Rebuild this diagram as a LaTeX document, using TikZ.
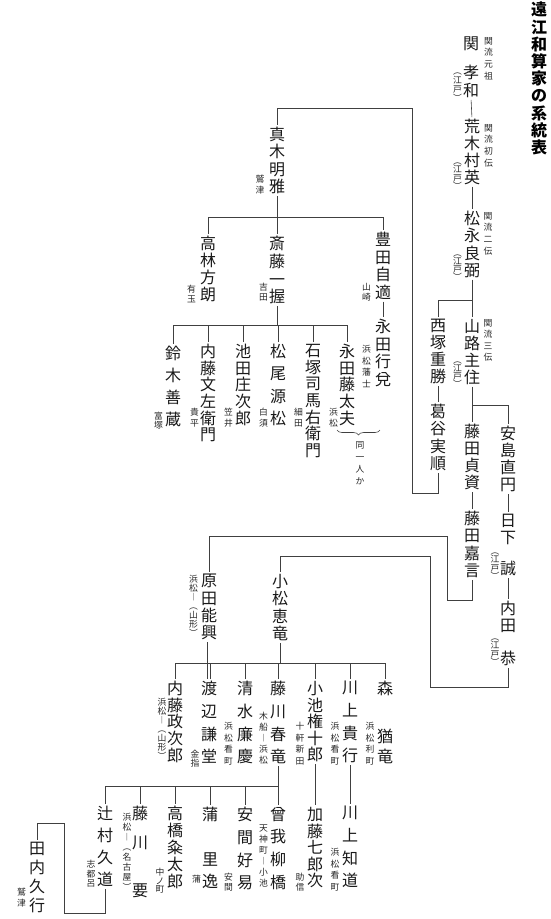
\documentclass[tikz,border=0pt]{standalone}
\usepackage{fontspec}
\newfontfamily\jp{Noto Sans CJK JP}
\usetikzlibrary{decorations.pathreplacing}
\begin{document}
\lineskiplimit=-6pt\relax
\lineskip=0pt\relax
\begin{tikzpicture}[x=1pt,y=-1pt,
  nm/.style={font=\jp\fontsize{16}{#1}\selectfont, align=center, inner sep=0pt, anchor=north, text=black!90},
  nm/.default=17,
  ann/.style={font=\jp\fontsize{8.8}{#1}\selectfont, align=center, inner sep=0pt, anchor=north, text=black!85},
  ann/.default=11,
  pa/.style={ann=#1, anchor=center},
  ttl/.style={font=\jp\bfseries\fontsize{16}{17.2}\selectfont, align=center, inner sep=0pt, anchor=north},
  ln/.style={line width=0.6pt, draw=black!75, shorten <=2pt},
  ln2/.style={line width=0.6pt, draw=black!75, shorten <=2pt, shorten >=2pt}]
\useasboundingbox (0,0) rectangle (550,919);

% title
\node[ttl] (title) at (539,2) {遠\\江\\和\\算\\家\\の\\系\\統\\表};

% Seki line
\node[nm=17.5] (seki) at (471,37) {関\\[11.5pt]孝\\和};
\node[ann=11.7] (sekiA) at (488.5,37) {関\\流\\元\\祖};
\node[pa=9] (sekiB) at (457.5,87.5) {︵\\江\\戸\\︶};

\node[nm=16.8] (araki) at (472,119) {荒\\木\\村\\英};
\node[ann=11.7] (arakiA) at (488.5,124) {関\\流\\初\\伝};
\node[pa=8.5] (arakiB) at (457.5,176) {︵\\江\\戸\\︶};

\node[nm=17.2] (matsunaga) at (472,211) {松\\永\\良\\弼};
\node[ann=11.7] (matsunagaA) at (488,212) {関\\流\\二\\伝};
\node[pa=8] (matsunagaB) at (457.5,268) {︵\\江\\戸\\︶};

\node[nm=17] (nishizuka) at (438,319) {西\\塚\\重\\勝};
\node[nm=17.3] (katsuya) at (438,404) {葛\\谷\\実\\順};

\node[nm=17] (yamaji) at (472,319) {山\\路\\主\\住};
\node[ann=11.5] (yamajiA) at (488,319) {関\\流\\三\\伝};
\node[pa=8] (yamajiB) at (457.5,375) {︵\\江\\戸\\︶};

\node[nm=17] (fujita1) at (472,424) {藤\\田\\貞\\資};
\node[nm=17.3] (fujita2) at (472,511) {藤\\田\\嘉\\言};

\node[nm=17] (ajima) at (508,426) {安\\島\\直\\円};
\node[nm=16.5] (kusaka) at (508,514) {日\\下\\[15pt]誠};
\node[pa=8.5] (kusakaB) at (495,566) {︵\\江\\戸\\︶};
\node[nm=16.5] (uchida) at (508,601) {内\\田\\[17pt]恭};
\node[pa=8.5] (uchidaB) at (495,652) {︵\\江\\戸\\︶};

% Maki group
\node[nm=17.3] (maki) at (277,127) {真\\木\\明\\雅};
\node[ann=11] (makiA) at (260,175) {鷲\\津};
\node[nm=17] (takabayashi) at (208,236) {高\\林\\方\\朗};
\node[ann=10] (takabayashiA) at (191.5,285) {有\\玉};
\node[nm=17.7] (saito) at (277,236) {斎\\藤\\一\\握};
\node[ann=10] (saitoA) at (263.5,283) {吉\\田};
\node[nm=17.5] (toyoda) at (383,232) {豊\\田\\自\\適};
\node[ann=10] (toyodaA) at (366.5,283) {山\\崎};
\node[nm=17.5] (nagata2) at (383,319) {永\\田\\行\\兌};
\node[ann=11.5] (nagata2A) at (366.5,345) {浜\\松\\藩\\士};

% Saito children
\node[nm=22] (suzuki) at (173,346) {鈴\\木\\善\\蔵};
\node[ann=9] (suzukiA) at (158.5,412) {富\\塚};
\node[nm=16.6] (naito1) at (208,344) {内\\藤\\文\\左\\衛\\門};
\node[ann=10.5] (naito1A) at (194.5,408) {貴\\平};
\node[nm=16.6] (ikeda) at (243,344) {池\\田\\庄\\次\\郎};
\node[ann=10.5] (ikedaA) at (228.5,408) {笠\\井};
\node[nm=22.3] (matsuo) at (278,344) {松\\尾\\源\\松};
\node[ann=10.5] (matsuoA) at (263.5,408) {白\\須};
\node[nm=16.7] (ishizuka) at (313,344) {石\\塚\\司\\馬\\右\\衛\\門};
\node[ann=10.5] (ishizukaA) at (298.5,408) {細\\田};
\node[nm=16.6] (nagata1) at (347,344) {永\\田\\藤\\太\\夫};
\node[ann=10.5] (nagata1A) at (333.5,408) {浜\\松};
\node[ann=12] (same) at (360,441) {同\\一\\人\\か};

% Harada / Komatsu
\node[nm=17.3] (harada) at (209,574) {原\\田\\能\\興};
\node[ann=9] (haradaA) at (193.5,575) {浜\\松\\︱\\︵\\山\\形\\︶};
\node[nm=17.3] (komatsu) at (280,574) {小\\松\\恵\\竜};

% Komatsu children
\node[nm=16.6] (naito2) at (175,681) {内\\藤\\政\\次\\郎};
\node[ann=9] (naito2A) at (162,698) {浜\\松\\︱\\︵\\山\\形\\︶};
\node[nm=22.7] (watanabe) at (209,681) {渡\\辺\\謙\\堂};
\node[ann=9] (watanabeA) at (195,750) {金\\指};
\node[nm=22.7] (shimizu) at (245,681) {清\\水\\廉\\慶};
\node[ann=11.5] (shimizuA) at (228.5,722) {浜\\松\\看\\町};
\node[nm=22.7] (fujikawa) at (278,681) {藤\\川\\春\\竜};
\node[ann=11] (fujikawaA) at (263.5,712) {木\\船\\︱\\浜\\松};
\node[nm=16.6] (koike) at (315,681) {小\\池\\権\\十\\郎};
\node[ann=11.5] (koikeA) at (300,722) {十\\軒\\新\\田};
\node[nm=22.7] (kawakami1) at (350,681) {川\\上\\貴\\行};
\node[ann=11.5] (kawakami1A) at (335,722) {浜\\松\\看\\町};
\node[nm=20] (mori) at (385,681) {森\\[28pt]猶\\竜};
\node[ann=11.5] (moriA) at (370,722) {浜\\松\\利\\町};

\node[nm=22.7] (kawakami2) at (350,806) {川\\上\\知\\道};
\node[ann=11.5] (kawakami2A) at (335,848) {浜\\松\\看\\町};
\node[nm=16.6] (kato) at (315,807) {加\\藤\\七\\郎\\次};
\node[ann=9.5] (katoA) at (300,873) {助\\信};

% Fujikawa children
\node[nm=22.7] (soga) at (278,807) {曾\\我\\柳\\橋};
\node[ann=11] (sogaA) at (263.5,825) {天\\神\\町\\︱\\小\\池};
\node[nm=22.7] (yasuma) at (245,807) {安\\間\\好\\易};
\node[ann=9.5] (yasumaA) at (228.5,873) {安\\間};
\node[nm=22] (kaba) at (210,807) {蒲\\[23pt]里\\逸};
\node[ann] (kabaA) at (196.5,875) {蒲};
\node[nm=17] (takahashi) at (175,806) {高\\橋\\粂\\太\\郎};
\node[ann=8.5] (takahashiA) at (160,868) {中\\ノ\\町};
\node[nm=17] (fujikawa2) at (140,806) {藤\\[12pt]川\\[31pt]要};
\node[ann=10] (fujikawa2A) at (127,813) {浜\\松\\︱\\︵\\名\\古\\屋\\︶};
\node[nm=22] (tsujimura) at (105,806) {辻\\村\\久\\道};
\node[ann=9.5] (tsujimuraA) at (91,860) {志\\都\\呂};
\node[nm=19] (tauchi) at (37,842) {田\\内\\久\\行};
\node[ann=11] (tauchiA) at (21.5,888) {鷲\\津};

% ---------- connectors ----------
\draw[ln2] (seki.south) -- (araki.north);
\draw[ln2] (araki.south) -- (matsunaga.north);
\coordinate (yM) at (0,300);
\draw[ln2] (matsunaga.south) -- (yamaji.north);
\draw[ln] (nishizuka.north) |- (matsunaga.south |- yM);
\draw[ln2] (nishizuka.south) -- (katsuya.north);
\draw[ln2] (yamaji.south) -- (fujita1.north);
\coordinate (yY) at (0,405);
\draw[ln] (ajima.north) |- (yamaji.south |- yY);
\draw[ln2] (fujita1.south) -- (fujita2.north);
\draw[ln2] (ajima.south) -- (kusaka.north);
\draw[ln2] (kusaka.south) -- (uchida.north);

% Katsuya -> Maki
\coordinate (k1) at (412,493);
\coordinate (k2) at (412,108);
\draw[ln2] (katsuya.south) |- (k1) -- (k2) -| (maki.north);

% Maki bar
\coordinate (bMaki) at (0,217);
\draw[ln] (maki.south) -- (maki.south |- bMaki);
\draw[ln2] (takabayashi.north) |- (toyoda.north |- bMaki) -- (toyoda.north);
\draw[ln] (saito.north) -- (saito.north |- bMaki);
\draw[ln2] (toyoda.south) -- (nagata2.north);

% Saito bar
\coordinate (bSaito) at (0,325);
\draw[ln] (saito.south) -- (saito.south |- bSaito);
\draw[ln2] (suzuki.north) |- (nagata1.north |- bSaito) -- (nagata1.north);
\foreach \n in {naito1,ikeda,matsuo,ishizuka}
  \draw[ln] (\n.north) -- (\n.north |- bSaito);
\draw[line width=0.6pt, draw=black!75, decorate, decoration={brace, amplitude=5pt}] (380,430) -- (337,430);

% Fujita -> Harada
\coordinate (f1) at (447,600);
\coordinate (f2) at (447,536);
\draw[ln2] (fujita2.south) |- (f1) -- (f2) -| (harada.north);

% Uchida -> Komatsu
\coordinate (u1) at (430,687);
\coordinate (u2) at (430,556);
\draw[ln2] (uchida.south) |- (u1) -- (u2) -| (komatsu.north);

% Komatsu bar
\coordinate (bK) at (0,663);
\draw[ln] (komatsu.south) -- (komatsu.south |- bK);
\draw[ln2] (naito2.north) |- (mori.north |- bK) -- (mori.north);
\foreach \n in {shimizu,fujikawa,koike,kawakami1}
  \draw[ln] (\n.north) -- (\n.north |- bK);
\draw[ln] ([xshift=1.5pt]watanabe.north) -- ([xshift=1.5pt]watanabe.north |- bK);
\draw[ln2] ([xshift=-1.5pt]harada.south) -- ([xshift=-1.5pt]watanabe.north);

\draw[ln2] (kawakami1.south) -- (kawakami2.north);
\draw[ln2] (koike.south) -- (kato.north);

% Fujikawa bar
\coordinate (bF) at (0,786);
\draw[ln2] (fujikawa.south) -- (soga.north);
\draw[ln] (tsujimura.north) |- (fujikawa.south |- bF);
\foreach \n in {fujikawa2,takahashi,kaba,yasuma}
  \draw[ln] (\n.north) -- (\n.north |- bF);

% Tsujimura -> Tauchi
\coordinate (t1) at (64,913);
\coordinate (t2) at (64,823);
\draw[ln2] (tsujimura.south) |- (t1) -- (t2) -| (tauchi.north);
\end{tikzpicture}
\end{document}
